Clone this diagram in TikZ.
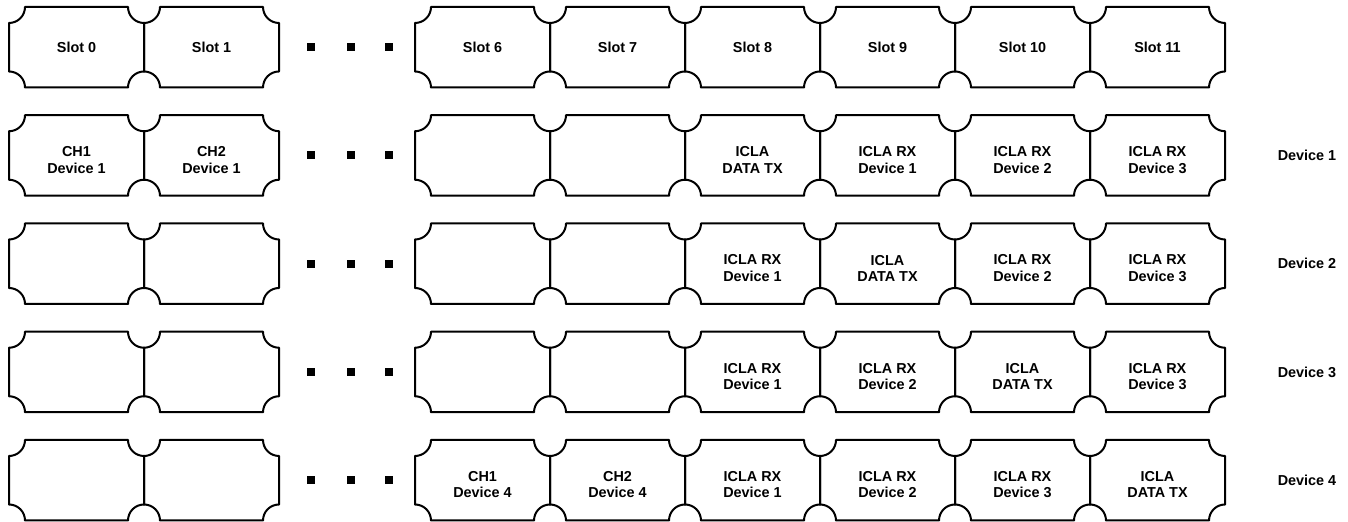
\documentclass[tikz,border=0pt]{standalone}
\usepackage{fontspec}
\setmainfont{Liberation Sans}
\usepackage{tikz}
\usetikzlibrary{positioning}
\tikzset{slot/.style={shape=rectangle,inner sep=0pt,outer sep=0pt,minimum width=67.5pt,
  minimum height=40.25pt,align=center,font=\bfseries\fontsize{7.2}{8.2}\selectfont},
  cell/.style={slot,text height=17.7pt},
  frame/.style={draw=black,line width=1pt,line join=round},
  dot/.style={fill=black,inner sep=0pt,minimum size=4pt},
  devtext/.style={font=\bfseries\fontsize{7.2}{8.2}\selectfont}}
% outline of one slot, concave corners
\newcommand\slotframe[1]{%
  \draw[frame] ([xshift=8pt]#1.north west) -- ([xshift=-8pt]#1.north east)
    arc[start angle=180,end angle=270,radius=8pt] -- ([yshift=8pt]#1.south east)
    arc[start angle=90,end angle=180,radius=8pt] -- ([xshift=8pt]#1.south west)
    arc[start angle=0,end angle=90,radius=8pt] -- ([yshift=-8pt]#1.north west)
    arc[start angle=270,end angle=360,radius=8pt] -- cycle;}

\begin{document}
\begin{tikzpicture}[x=0.5pt,y=0.5pt,node distance=13.875pt and 0pt]
\useasboundingbox (0,0) rectangle (1348,-522);
% slot numbers
\node[slot] (a0) at (76.5,-47.25) {Slot 0};
\node[slot,right=of a0] (a1) {Slot 1};
\node[slot] (a6) at (482.5,-47.25) {Slot 6};
\node[slot,right=of a6] (a7) {Slot 7};
\node[slot,right=of a7] (a8) {Slot 8};
\node[slot,right=of a8] (a9) {Slot 9};
\node[slot,right=of a9] (a10) {Slot 10};
\node[slot,right=of a10] (a11) {Slot 11};
% device 1
\node[cell,below=of a0] (b0) {CH1\\Device 1};
\node[cell,right=of b0] (b1) {CH2\\Device 1};
\node[cell,below=of a6] (b6) {};
\node[cell,right=of b6] (b7) {};
\node[cell,right=of b7] (b8) {ICLA\\DATA TX};
\node[cell,right=of b8] (b9) {ICLA RX\\Device 1};
\node[cell,right=of b9] (b10) {ICLA RX\\Device 2};
\node[cell,right=of b10] (b11) {ICLA RX\\Device 3};
% device 2
\node[cell,below=of b0] (c0) {};
\node[cell,right=of c0] (c1) {};
\node[cell,below=of b6] (c6) {};
\node[cell,right=of c6] (c7) {};
\node[cell,right=of c7] (c8) {ICLA RX\\Device 1};
\node[cell,right=of c8] (c9) {ICLA\\DATA TX};
\node[cell,right=of c9] (c10) {ICLA RX\\Device 2};
\node[cell,right=of c10] (c11) {ICLA RX\\Device 3};
% device 3
\node[cell,below=of c0] (d0) {};
\node[cell,right=of d0] (d1) {};
\node[cell,below=of c6] (d6) {};
\node[cell,right=of d6] (d7) {};
\node[cell,right=of d7] (d8) {ICLA RX\\Device 1};
\node[cell,right=of d8] (d9) {ICLA RX\\Device 2};
\node[cell,right=of d9] (d10) {ICLA\\DATA TX};
\node[cell,right=of d10] (d11) {ICLA RX\\Device 3};
% device 4
\node[cell,below=of d0] (e0) {};
\node[cell,right=of e0] (e1) {};
\node[cell,below=of d6] (e6) {CH1\\Device 4};
\node[cell,right=of e6] (e7) {CH2\\Device 4};
\node[cell,right=of e7] (e8) {ICLA RX\\Device 1};
\node[cell,right=of e8] (e9) {ICLA RX\\Device 2};
\node[cell,right=of e9] (e10) {ICLA RX\\Device 3};
\node[cell,right=of e10] (e11) {ICLA\\DATA TX};
\foreach \r in {a,b,c,d,e}
  \foreach \c in {0,1,6,7,8,9,10,11} {\slotframe{\r\c}}
% gap between slot 1 and slot 6
\foreach \r in {a,b,c,d,e}
  \foreach \x [count=\k] in {311,350.5,389} \node[dot] (\r dot\k) at (\x,0 |- \r1) {};
\node[devtext] (dev1) at (1307,0 |- b11) {Device 1};
\node[devtext] (dev2) at (1307,0 |- c11) {Device 2};
\node[devtext] (dev3) at (1307,0 |- d11) {Device 3};
\node[devtext] (dev4) at (1307,0 |- e11) {Device 4};
\end{tikzpicture}
\end{document}
